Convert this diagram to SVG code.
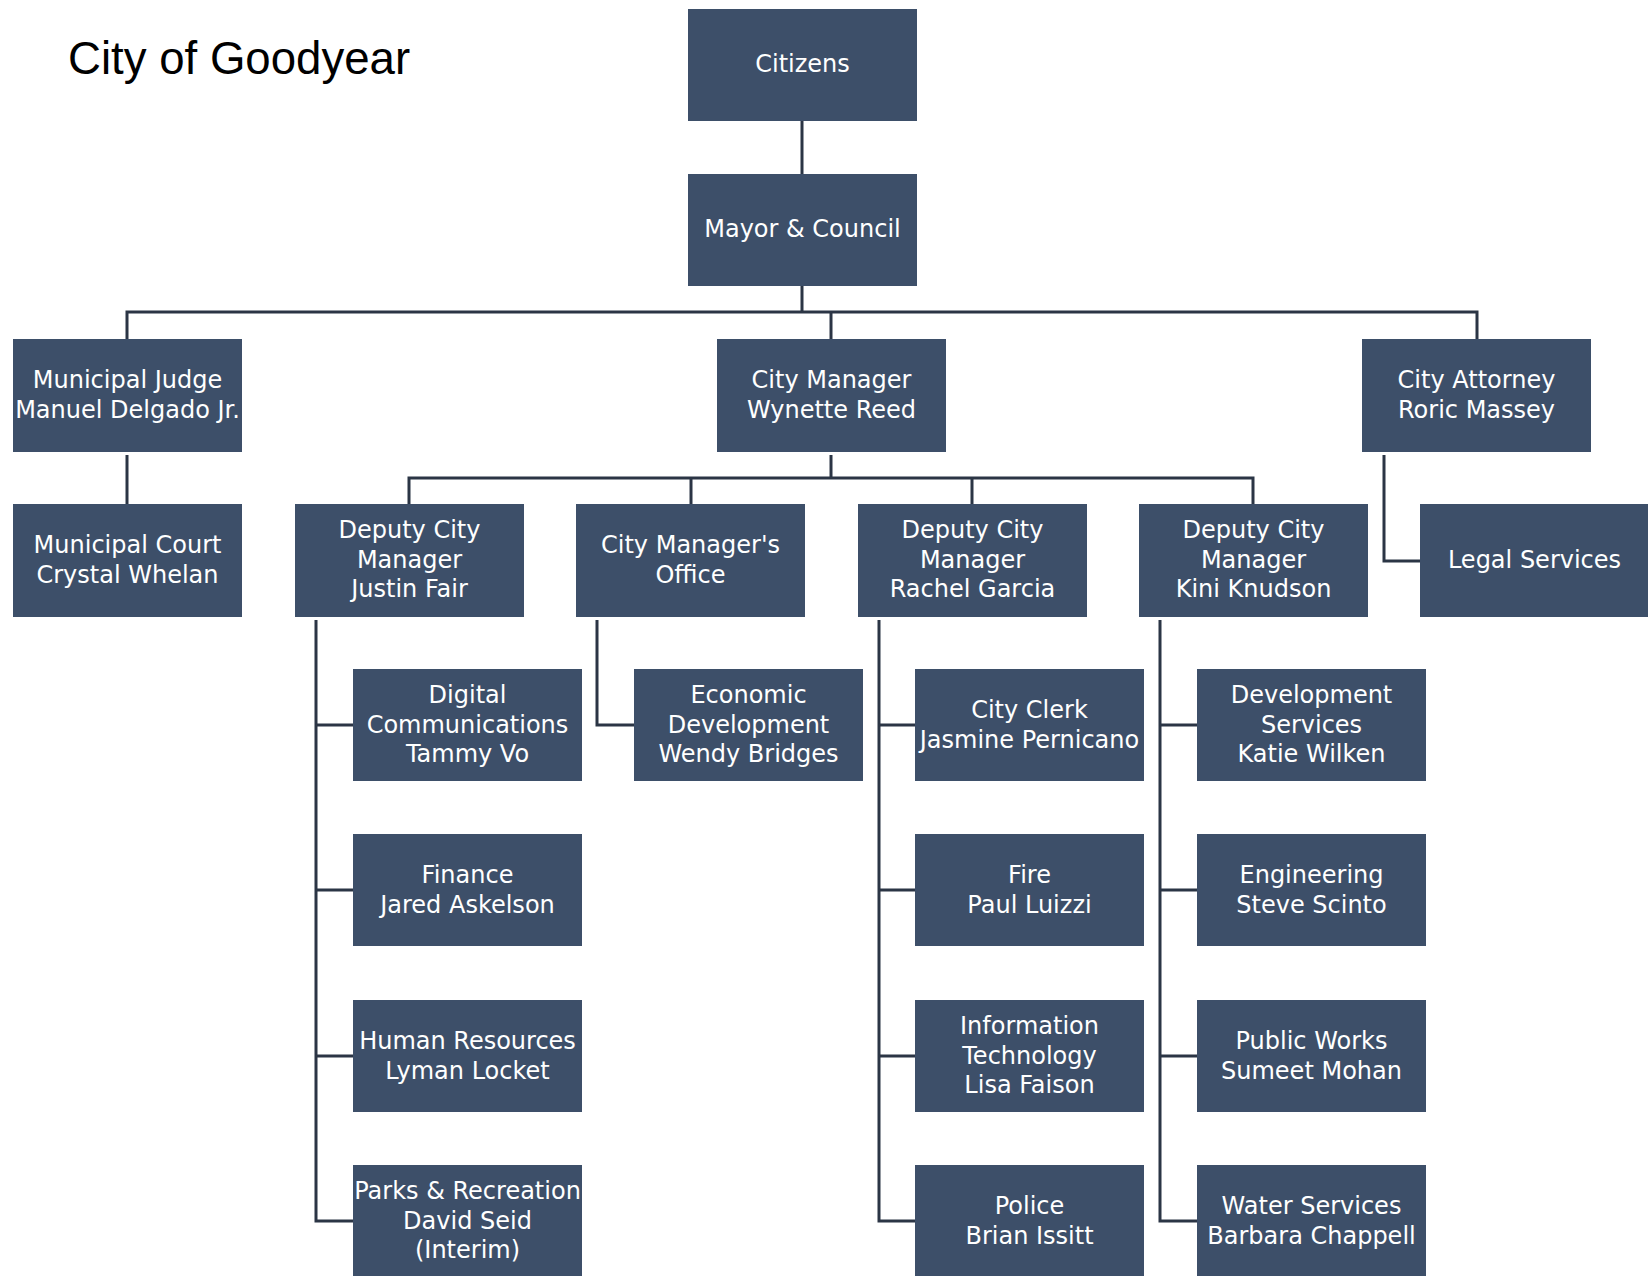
<svg xmlns="http://www.w3.org/2000/svg" width="1648" height="1276" viewBox="0 0 1648 1276">
<style>
.box{fill:#3d4f69;}
.lbl{font-family:"DejaVu Sans",sans-serif;font-size:24px;fill:#ffffff;text-anchor:middle;}
.con{fill:none;stroke:#2b3545;stroke-width:3;}
.title{font-family:"Liberation Sans",Arial,sans-serif;font-size:45.6px;fill:#000000;}
</style>
<rect width="1648" height="1276" fill="#ffffff"/>
<text class="title" x="68" y="74">City of Goodyear</text>
<g id="connectors">
<path class="con" d="M802 121V174"/>
<path class="con" d="M802 286V312"/>
<path class="con" d="M127 339V312H1477V339"/>
<path class="con" d="M831 312V339"/>
<path class="con" d="M127 455V504"/>
<path class="con" d="M831 455V478"/>
<path class="con" d="M409 504V478H1253V504"/>
<path class="con" d="M691 478V504"/>
<path class="con" d="M972 478V504"/>
<path class="con" d="M1384 455V561H1420"/>
<path class="con" d="M316 620V1221H353"/>
<path class="con" d="M316 725H353M316 890H353M316 1056H353"/>
<path class="con" d="M597 620V725H634"/>
<path class="con" d="M879 620V1221H915"/>
<path class="con" d="M879 725H915M879 890H915M879 1056H915"/>
<path class="con" d="M1160 620V1221H1197"/>
<path class="con" d="M1160 725H1197M1160 890H1197M1160 1056H1197"/>
</g>
<g id="citizens"><rect class="box" x="688" y="9" width="229" height="112"/><text class="lbl" x="802.5" y="72">Citizens</text></g>
<g id="mayor"><rect class="box" x="688" y="174" width="229" height="112"/><text class="lbl" x="802.5" y="237">Mayor &amp; Council</text></g>
<g id="judge"><rect class="box" x="13" y="339" width="229" height="113"/><text class="lbl" x="127.5" y="388">Municipal Judge<tspan x="127.5" dy="29.5">Manuel Delgado Jr.</tspan></text></g>
<g id="citymanager"><rect class="box" x="717" y="339" width="229" height="113"/><text class="lbl" x="831.5" y="388">City Manager<tspan x="831.5" dy="29.5">Wynette Reed</tspan></text></g>
<g id="attorney"><rect class="box" x="1362" y="339" width="229" height="113"/><text class="lbl" x="1476.5" y="388">City Attorney<tspan x="1476.5" dy="29.5">Roric Massey</tspan></text></g>
<g id="court"><rect class="box" x="13" y="504" width="229" height="113"/><text class="lbl" x="127.5" y="553">Municipal Court<tspan x="127.5" dy="29.5">Crystal Whelan</tspan></text></g>
<g id="dcm-fair"><rect class="box" x="295" y="504" width="229" height="113"/><text class="lbl" x="409.5" y="538">Deputy City<tspan x="409.5" dy="29.5">Manager</tspan><tspan x="409.5" dy="29.5">Justin Fair</tspan></text></g>
<g id="cmo"><rect class="box" x="576" y="504" width="229" height="113"/><text class="lbl" x="690.5" y="553">City Manager's<tspan x="690.5" dy="29.5">Office</tspan></text></g>
<g id="dcm-garcia"><rect class="box" x="858" y="504" width="229" height="113"/><text class="lbl" x="972.5" y="538">Deputy City<tspan x="972.5" dy="29.5">Manager</tspan><tspan x="972.5" dy="29.5">Rachel Garcia</tspan></text></g>
<g id="dcm-knudson"><rect class="box" x="1139" y="504" width="229" height="113"/><text class="lbl" x="1253.5" y="538">Deputy City<tspan x="1253.5" dy="29.5">Manager</tspan><tspan x="1253.5" dy="29.5">Kini Knudson</tspan></text></g>
<g id="legal"><rect class="box" x="1420" y="504" width="229" height="113"/><text class="lbl" x="1534.5" y="568">Legal Services</text></g>
<g id="digital"><rect class="box" x="353" y="669" width="229" height="112"/><text class="lbl" x="467.5" y="703">Digital<tspan x="467.5" dy="29.5">Communications</tspan><tspan x="467.5" dy="29.5">Tammy Vo</tspan></text></g>
<g id="finance"><rect class="box" x="353" y="834" width="229" height="112"/><text class="lbl" x="467.5" y="883">Finance<tspan x="467.5" dy="29.5">Jared Askelson</tspan></text></g>
<g id="hr"><rect class="box" x="353" y="1000" width="229" height="112"/><text class="lbl" x="467.5" y="1049">Human Resources<tspan x="467.5" dy="29.5">Lyman Locket</tspan></text></g>
<g id="parks"><rect class="box" x="353" y="1165" width="229" height="112"/><text class="lbl" x="467.5" y="1199">Parks &amp; Recreation<tspan x="467.5" dy="29.5">David Seid</tspan><tspan x="467.5" dy="29.5">(Interim)</tspan></text></g>
<g id="econdev"><rect class="box" x="634" y="669" width="229" height="112"/><text class="lbl" x="748.5" y="703">Economic<tspan x="748.5" dy="29.5">Development</tspan><tspan x="748.5" dy="29.5">Wendy Bridges</tspan></text></g>
<g id="clerk"><rect class="box" x="915" y="669" width="229" height="112"/><text class="lbl" x="1029.5" y="718">City Clerk<tspan x="1029.5" dy="29.5">Jasmine Pernicano</tspan></text></g>
<g id="fire"><rect class="box" x="915" y="834" width="229" height="112"/><text class="lbl" x="1029.5" y="883">Fire<tspan x="1029.5" dy="29.5">Paul Luizzi</tspan></text></g>
<g id="it"><rect class="box" x="915" y="1000" width="229" height="112"/><text class="lbl" x="1029.5" y="1034">Information<tspan x="1029.5" dy="29.5">Technology</tspan><tspan x="1029.5" dy="29.5">Lisa Faison</tspan></text></g>
<g id="police"><rect class="box" x="915" y="1165" width="229" height="112"/><text class="lbl" x="1029.5" y="1214">Police<tspan x="1029.5" dy="29.5">Brian Issitt</tspan></text></g>
<g id="devservices"><rect class="box" x="1197" y="669" width="229" height="112"/><text class="lbl" x="1311.5" y="703">Development<tspan x="1311.5" dy="29.5">Services</tspan><tspan x="1311.5" dy="29.5">Katie Wilken</tspan></text></g>
<g id="engineering"><rect class="box" x="1197" y="834" width="229" height="112"/><text class="lbl" x="1311.5" y="883">Engineering<tspan x="1311.5" dy="29.5">Steve Scinto</tspan></text></g>
<g id="publicworks"><rect class="box" x="1197" y="1000" width="229" height="112"/><text class="lbl" x="1311.5" y="1049">Public Works<tspan x="1311.5" dy="29.5">Sumeet Mohan</tspan></text></g>
<g id="water"><rect class="box" x="1197" y="1165" width="229" height="112"/><text class="lbl" x="1311.5" y="1214">Water Services<tspan x="1311.5" dy="29.5">Barbara Chappell</tspan></text></g>
</svg>
